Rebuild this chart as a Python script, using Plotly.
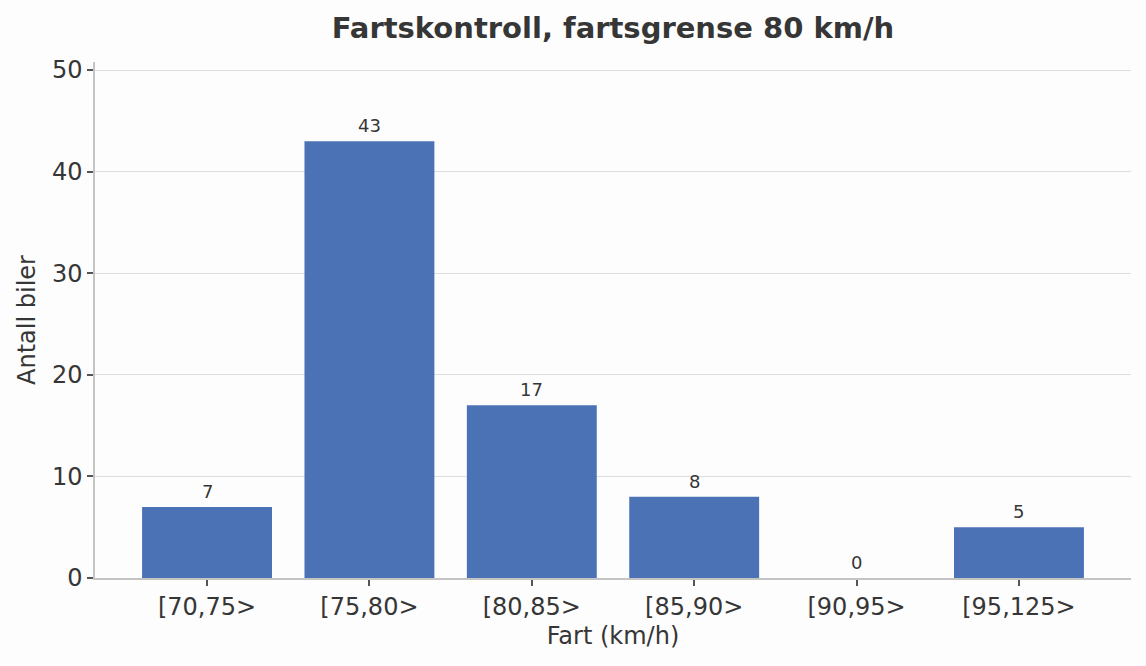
import plotly.graph_objects as go

categories = ["[70,75>", "[75,80>", "[80,85>", "[85,90>", "[90,95>", "[95,125>"]
counts = [7, 43, 17, 8, 0, 5]
y_ticks = [0, 10, 20, 30, 40, 50]

text_color = "#363636"
bar_color = "#4a72b5"
bg = "#fdfdfd"
font_family = "DejaVu Sans"

x_pos = list(range(len(categories)))

fig = go.Figure()
fig.add_trace(go.Bar(
    x=x_pos, y=counts, width=0.8, marker=dict(color=bar_color, line=dict(width=0)),
    showlegend=False, hoverinfo="skip",
))
for xi, c in zip(x_pos, counts):
    fig.add_annotation(
        x=xi, y=c, text=str(c), showarrow=False, yanchor="bottom", yshift=3,
        font=dict(size=18, color=text_color, family=font_family),
    )

fig.update_layout(
    width=1146, height=666,
    paper_bgcolor=bg, plot_bgcolor=bg,
    margin=dict(l=95, r=15, t=62, b=88, pad=0),
    font=dict(family=font_family, color=text_color, size=24),
    title=dict(text="<b>Fartskontroll, fartsgrense 80 km/h</b>", x=613 / 1146, xanchor="center",
               y=1 - 28 / 666, yanchor="middle", font=dict(size=29, color=text_color)),
    bargap=0.2,
)
fig.update_xaxes(
    range=[-0.69, len(categories) - 1 + 0.69],
    tickmode="array", tickvals=x_pos, ticktext=categories,
    ticks="outside", ticklen=6, tickwidth=1.5, tickcolor="#555555",
    showline=True, linecolor="#c4c4c4", linewidth=1.5,
    showgrid=False, zeroline=False,
    tickfont=dict(size=24, color=text_color),
    title=dict(text="Fart (km/h)", font=dict(size=24, color=text_color), standoff=8),
)
fig.update_yaxes(
    range=[0, 50.79],
    tickmode="array", tickvals=y_ticks,
    ticks="outside", ticklen=6, tickwidth=1.5, tickcolor="#555555",
    showline=True, linecolor="#c4c4c4", linewidth=1.5,
    showgrid=True, gridcolor="#dedede", gridwidth=1.2, zeroline=False,
    tickfont=dict(size=24, color=text_color),
    title=dict(text="Antall biler", font=dict(size=24, color=text_color), standoff=10),
)

fig.write_html(
    "out.html",
    config={"displayModeBar": False},
    post_script="document.body.style.margin='0';document.body.style.background='#fdfdfd';",
)
